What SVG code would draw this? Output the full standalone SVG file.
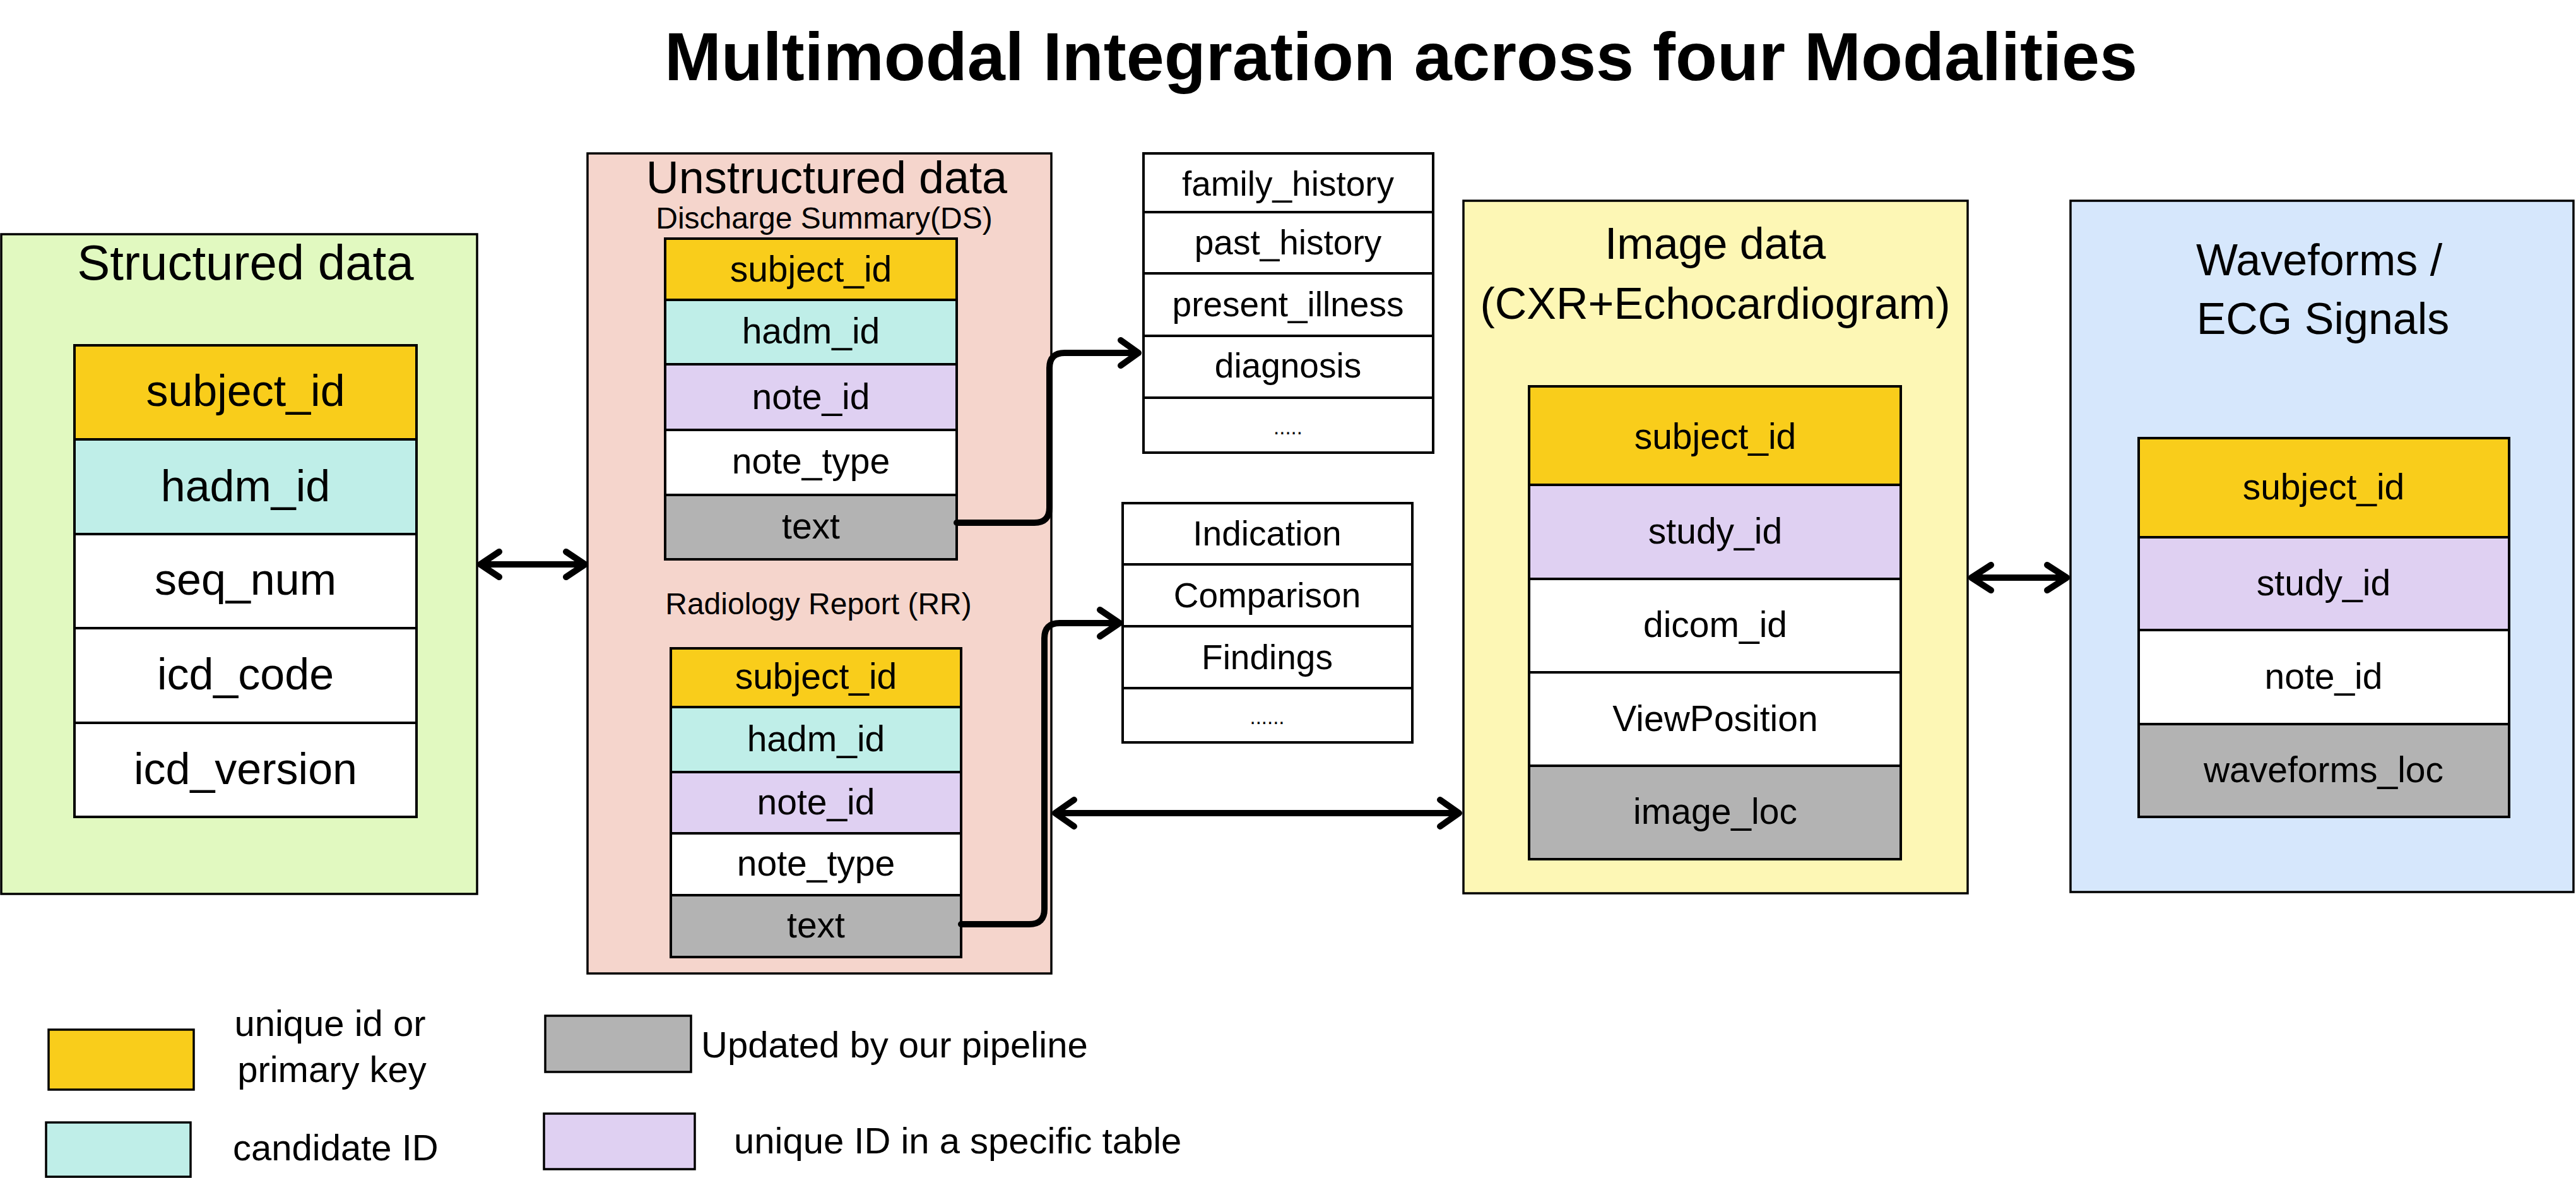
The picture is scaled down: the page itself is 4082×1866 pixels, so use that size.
<svg xmlns="http://www.w3.org/2000/svg" width="4082" height="1866" viewBox="0 0 4082 1866">
<style>
text{font-family:"Liberation Sans",Arial,sans-serif;fill:#000}
.c{text-anchor:middle}
.box{stroke:#000;stroke-width:3.5}
.row{stroke:#000;stroke-width:4}
.y{fill:#F9CD1B}
.cy{fill:#BFEEE8}
.pu{fill:#DFD0F2}
.gr{fill:#B3B3B3}
.wh{fill:#FFFFFF}
.lg{stroke:#000;stroke-width:3.5}
.conn{fill:none;stroke:#000;stroke-width:10;stroke-linecap:round;stroke-linejoin:round}
.t57{font-size:57px}
.t55{font-size:55px}
.t70{font-size:70px}
.t48{font-size:48px}
.t58{font-size:58px}
.dots{font-size:33px}
</style>
<rect width="4082" height="1866" fill="#FFFFFF"/>
<g id="title">
<text class="c" x="2220" y="127" font-size="108" font-weight="700">Multimodal Integration across four Modalities</text>
</g>
<g id="structured">
<rect class="box" x="2" y="371" width="754" height="1045" fill="#E1F9C0"/>
<text class="c" x="389" y="443" font-size="78">Structured data</text>
<rect class="row y" x="118" y="547" width="542" height="149"/>
<rect class="row cy" x="118" y="696" width="542" height="150"/>
<rect class="row wh" x="118" y="846" width="542" height="149"/>
<rect class="row wh" x="118" y="995" width="542" height="150"/>
<rect class="row wh" x="118" y="1145" width="542" height="149"/>
<text class="c t70" x="389" y="643">subject_id</text>
<text class="c t70" x="389" y="794">hadm_id</text>
<text class="c t70" x="389" y="942">seq_num</text>
<text class="c t70" x="389" y="1092">icd_code</text>
<text class="c t70" x="389" y="1242">icd_version</text>
</g>
<g id="unstructured">
<rect class="box" x="931" y="243" width="735" height="1299" fill="#F5D5CC"/>
<text class="c" x="1310" y="306" font-size="72">Unstructured data</text>
<text class="c t48" x="1306" y="362">Discharge Summary(DS)</text>
<rect class="row y" x="1054" y="378" width="462" height="97"/>
<rect class="row cy" x="1054" y="475" width="462" height="102"/>
<rect class="row pu" x="1054" y="577" width="462" height="104"/>
<rect class="row wh" x="1054" y="681" width="462" height="103"/>
<rect class="row gr" x="1054" y="784" width="462" height="102"/>
<text class="c t57" x="1285" y="446">subject_id</text>
<text class="c t57" x="1285" y="544">hadm_id</text>
<text class="c t57" x="1285" y="648">note_id</text>
<text class="c t57" x="1285" y="750">note_type</text>
<text class="c t57" x="1285" y="853">text</text>
<text class="c t48" x="1297" y="973">Radiology Report (RR)</text>
<rect class="row y" x="1063" y="1027" width="460" height="93"/>
<rect class="row cy" x="1063" y="1120" width="460" height="103"/>
<rect class="row pu" x="1063" y="1223" width="460" height="97"/>
<rect class="row wh" x="1063" y="1320" width="460" height="98"/>
<rect class="row gr" x="1063" y="1418" width="460" height="98"/>
<text class="c t57" x="1293" y="1091">subject_id</text>
<text class="c t57" x="1293" y="1190">hadm_id</text>
<text class="c t57" x="1293" y="1290">note_id</text>
<text class="c t57" x="1293" y="1387">note_type</text>
<text class="c t57" x="1293" y="1485">text</text>
</g>
<g id="ds-sections">
<rect class="row wh" x="1812" y="243" width="459" height="93"/>
<rect class="row wh" x="1812" y="336" width="459" height="97"/>
<rect class="row wh" x="1812" y="433" width="459" height="99"/>
<rect class="row wh" x="1812" y="532" width="459" height="98"/>
<rect class="row wh" x="1812" y="630" width="459" height="87"/>
<text class="c t55" x="2041" y="310">family_history</text>
<text class="c t55" x="2041" y="403">past_history</text>
<text class="c t55" x="2041" y="501">present_illness</text>
<text class="c t55" x="2041" y="598">diagnosis</text>
<text class="c dots" x="2041" y="688">.....</text>
</g>
<g id="rr-sections">
<rect class="row wh" x="1779" y="797" width="459" height="97"/>
<rect class="row wh" x="1779" y="894" width="459" height="98"/>
<rect class="row wh" x="1779" y="992" width="459" height="98"/>
<rect class="row wh" x="1779" y="1090" width="459" height="86"/>
<text class="c t55" x="2008" y="864">Indication</text>
<text class="c t55" x="2008" y="962">Comparison</text>
<text class="c t55" x="2008" y="1060">Findings</text>
<text class="c dots" x="2008" y="1147">......</text>
</g>
<g id="image">
<rect class="box" x="2319" y="318" width="799" height="1097" fill="#FDF7B5"/>
<text class="c t70" x="2718" y="410">Image data</text>
<text class="c t70" x="2718" y="505">(CXR+Echocardiogram)</text>
<rect class="row y" x="2423" y="612" width="589" height="156"/>
<rect class="row pu" x="2423" y="768" width="589" height="149"/>
<rect class="row wh" x="2423" y="917" width="589" height="148"/>
<rect class="row wh" x="2423" y="1065" width="589" height="148"/>
<rect class="row gr" x="2423" y="1213" width="589" height="148"/>
<text class="c t57" x="2718" y="711">subject_id</text>
<text class="c t57" x="2718" y="861">study_id</text>
<text class="c t57" x="2718" y="1009">dicom_id</text>
<text class="c t57" x="2718" y="1158">ViewPosition</text>
<text class="c t57" x="2718" y="1305">image_loc</text>
</g>
<g id="waveforms">
<rect class="box" x="3281" y="318" width="797" height="1095" fill="#D6E7FC"/>
<text class="c t70" x="3675" y="436">Waveforms /</text>
<text class="c t70" x="3681" y="529">ECG Signals</text>
<rect class="row y" x="3389" y="694" width="587" height="157"/>
<rect class="row pu" x="3389" y="851" width="587" height="147"/>
<rect class="row wh" x="3389" y="998" width="587" height="149"/>
<rect class="row gr" x="3389" y="1147" width="587" height="147"/>
<text class="c t57" x="3682" y="791">subject_id</text>
<text class="c t57" x="3682" y="943">study_id</text>
<text class="c t57" x="3682" y="1091">note_id</text>
<text class="c t57" x="3682" y="1239">waveforms_loc</text>
</g>
<g id="connectors">
<path class="conn" d="M761,894 H927 M791,874 L761,894 L791,914 M897,874 L927,894 L897,914"/>
<path class="conn" d="M1516,828 H1639 Q1663,828 1663,804 V583 Q1663,559 1687,559 H1804 M1776,539 L1804,559 L1776,579"/>
<path class="conn" d="M1523,1464 H1631 Q1655,1464 1655,1440 V1011 Q1655,987 1679,987 H1774 M1743,966 L1774,987 L1743,1008"/>
<path class="conn" d="M1672,1288 H2312 M1702,1267 L1672,1288 L1702,1309 M2282,1267 L2312,1288 L2282,1309"/>
<path class="conn" d="M3124,915 H3275 M3155,895 L3124,915 L3155,935 M3244,895 L3275,915 L3244,935"/>
</g>
<g id="legend">
<rect class="lg y" x="77" y="1631" width="230" height="95"/>
<text class="c t58" x="523" y="1641">unique id or</text>
<text class="c t58" x="526" y="1714">primary key</text>
<rect class="lg cy" x="73" y="1778" width="229" height="86"/>
<text class="t58" x="369" y="1838">candidate ID</text>
<rect class="lg gr" x="864" y="1609" width="231" height="89"/>
<text class="t58" x="1111" y="1675">Updated by our pipeline</text>
<rect class="lg pu" x="862" y="1764" width="239" height="88"/>
<text class="t58" x="1163" y="1827">unique ID in a specific table</text>
</g>
</svg>
